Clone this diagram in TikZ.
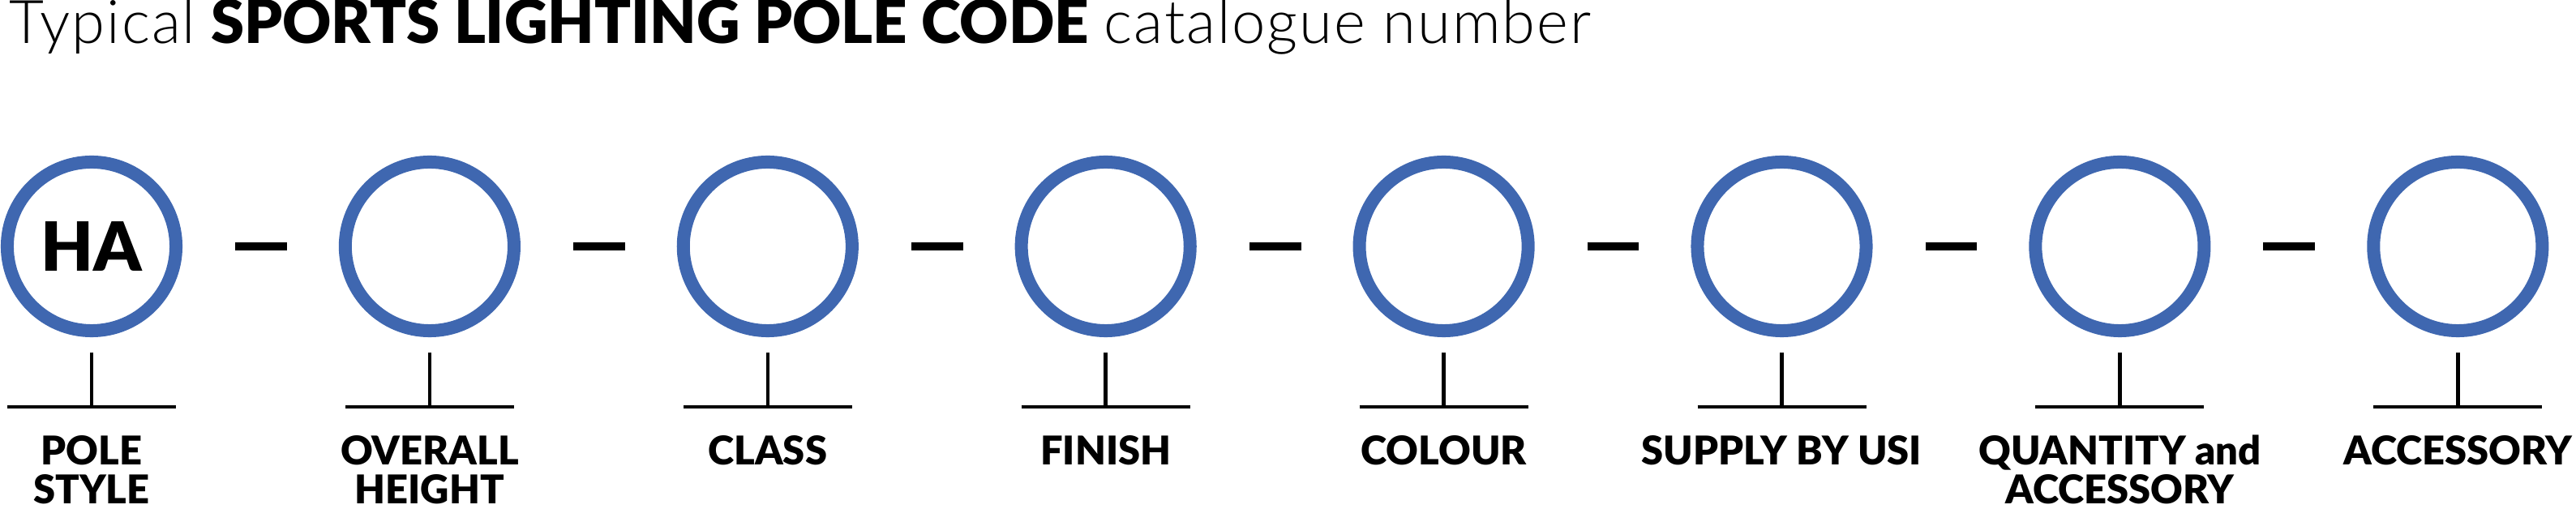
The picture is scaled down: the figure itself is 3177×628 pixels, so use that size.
\documentclass[tikz,border=0pt]{standalone}
\usepackage{fontspec}
\setmainfont{Lato}
\newfontfamily\lightfont{Lato Light}[LetterSpace=2.5]
\newfontfamily\heavyfont{Lato Black}
\definecolor{ringblue}{RGB}{63,103,176}
\begin{document}
\begin{tikzpicture}[x=0.01cm,y=-0.01cm,
  ring/.style={circle, draw=ringblue, line width=16*0.2845pt, minimum size=2.08cm, inner sep=0pt},
  sep/.style={line width=10*0.2845pt, black},
  stem/.style={line width=4.5*0.2845pt, black},
  lbl/.style={anchor=base, inner sep=0pt, font=\heavyfont\fontsize{13.9}{15.1}\selectfont},
  ttl/.style={anchor=base west, inner sep=0pt, font=\fontsize{21.1}{24}\selectfont}]
\useasboundingbox (0,0) rectangle (3177,628);
\clip (0,0) rectangle (3177,628);
\node[ttl] (title) at (11,54) {{\lightfont Typical} {\heavyfont SPORTS LIGHTING POLE CODE} {\lightfont catalogue number}};
\foreach \i/\a/\b in {1/POLE/STYLE,2/OVERALL/HEIGHT,3/CLASS/,4/FINISH/,5/COLOUR/,6/SUPPLY BY USI/,7/QUANTITY and/ACCESSORY,8/ACCESSORY/}{
  \pgfmathsetmacro{\cx}{113+(\i-1)*416.9}
  \node[ring] (c\i) at (\cx,304) {};
  \coordinate (st\i) at (\cx,435);
  \coordinate (sb\i) at (\cx,502);
  \coordinate (bl\i) at (\cx-104,502);
  \coordinate (br\i) at (\cx+104,502);
  \draw[stem] (st\i) -- (sb\i);
  \draw[stem] (bl\i) -- (br\i);
  \node[lbl] (la\i) at (\cx,574) {\a};
  \node[lbl] (lb\i) at (\cx,622) {\b};
}
\node[inner sep=0pt, font=\heavyfont\fontsize{23.8}{26}\selectfont] (ha) at (c1) {HA};
\foreach \i [evaluate=\i as \j using int(\i+1)] in {1,...,7}{
  \draw[sep] ([xshift=65*0.01cm]c\i.east) -- ([xshift=-64*0.01cm]c\j.west);
}
\end{tikzpicture}
\end{document}
